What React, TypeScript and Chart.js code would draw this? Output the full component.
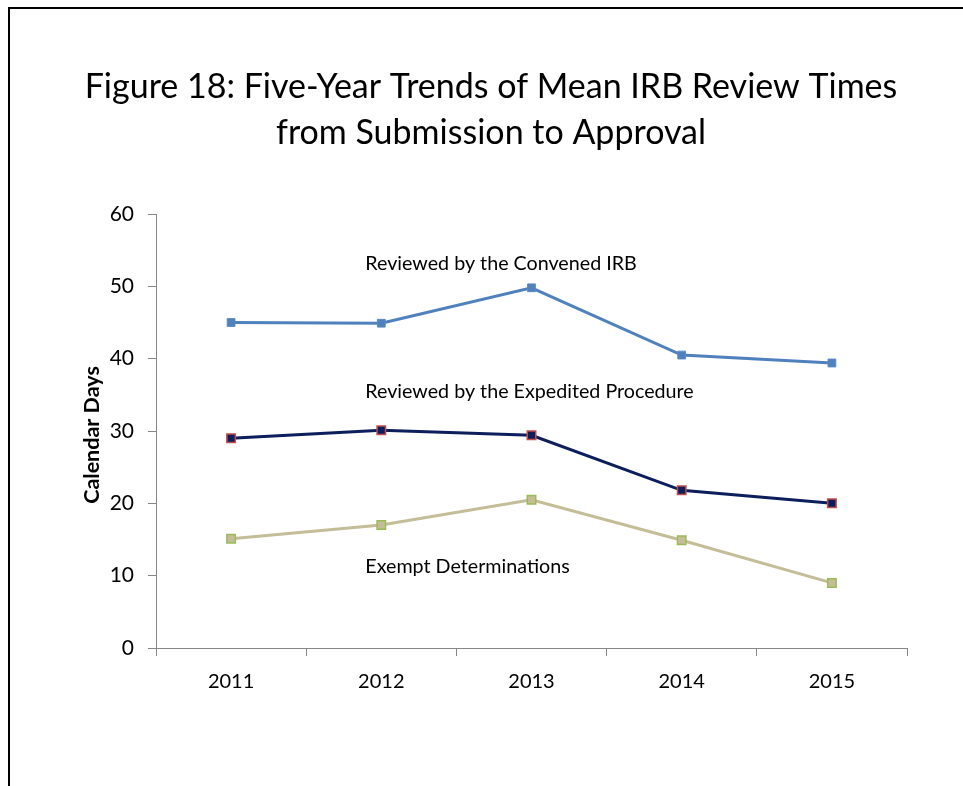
import React, { useEffect, useRef } from "react";
import { Chart, registerables } from "chart.js";

Chart.register(...registerables);

const years = ["2011", "2012", "2013", "2014", "2015"];
const convened = [45.0, 44.9, 49.8, 40.5, 39.4];
const expedited = [29.0, 30.1, 29.4, 21.8, 20.0];
const exempt = [15.1, 17.0, 20.5, 14.9, 9.0];
const titleLines = [
  "Figure 18: Five-Year Trends of Mean IRB Review Times",
  "from Submission to Approval",
];
const yAxisTitle = "Calendar Days";
const seriesLabels = [
  "Reviewed by the Convened IRB",
  "Reviewed by the Expedited Procedure",
  "Exempt Determinations",
];
const labelValues = [53.2, 35.4, 11.3];

const FONT = "Lato, 'Open Sans', sans-serif";

const textPlugin = {
  id: "textPlugin",
  afterDraw(chart: any) {
    const { ctx, scales } = chart;
    const x = scales.x;
    const y = scales.y;
    ctx.save();
    ctx.fillStyle = "#000";
    ctx.font = `19.7px ${FONT}`;
    ctx.textAlign = "left";
    ctx.textBaseline = "middle";
    const lx = x.getPixelForValue(1) - 16;
    seriesLabels.forEach((t, i) => {
      ctx.fillText(t, lx, y.getPixelForValue(labelValues[i]));
    });
    // y-axis title
    const area = chart.chartArea;
    ctx.translate(92, (area.top + area.bottom) / 2 + 4);
    ctx.rotate(-Math.PI / 2);
    ctx.font = `bold 21.5px ${FONT}`;
    ctx.textAlign = "center";
    ctx.fillText(yAxisTitle, 0, 0);
    ctx.restore();
  },
};

export default function App() {
  const ref = useRef<HTMLCanvasElement>(null);
  useEffect(() => {
    if (!ref.current) return;
    const axisColor = "#868686";
    const chart = new Chart(ref.current, {
      type: "line",
      data: {
        labels: years,
        datasets: [
          {
            label: seriesLabels[0],
            data: convened,
            borderColor: "#4F81BD",
            backgroundColor: "#4F81BD",
            pointBackgroundColor: "#4F81BD",
            pointBorderColor: "#5A8AC6",
            borderWidth: 3,
            pointStyle: "rect",
            pointRadius: 5.5,
            pointBorderWidth: 1,
          },
          {
            label: seriesLabels[1],
            data: expedited,
            borderColor: "#0C1E5B",
            backgroundColor: "#0C1E5B",
            pointBackgroundColor: "#0C1E5B",
            pointBorderColor: "#C0504D",
            borderWidth: 3,
            pointStyle: "rect",
            pointRadius: 6,
            pointBorderWidth: 1.5,
          },
          {
            label: seriesLabels[2],
            data: exempt,
            borderColor: "#C4BD97",
            backgroundColor: "#C4BD97",
            pointBackgroundColor: "#C4BD97",
            pointBorderColor: "#9BBB59",
            borderWidth: 3,
            pointStyle: "rect",
            pointRadius: 6,
            pointBorderWidth: 1.5,
          },
        ],
      },
      options: {
        animation: false,
        responsive: false,
        layout: { padding: { left: 75, right: 56, top: 0, bottom: 0 } },
        plugins: {
          legend: { display: false },
          tooltip: { enabled: false },
          title: {
            display: true,
            text: titleLines,
            color: "#000",
            font: { family: FONT, size: 34, weight: "normal", lineHeight: 46 / 34 },
            padding: { top: 64, bottom: 58 },
          },
        },
        scales: {
          x: {
            offset: true,
            grid: {
              offset: true,
              drawOnChartArea: false,
              drawTicks: true,
              tickLength: 8,
              color: axisColor,
            },
            border: { display: true, color: axisColor, width: 1 },
            ticks: { color: "#000", font: { family: FONT, size: 20 }, padding: 14 },
            afterFit: (s: any) => {
              s.height = 138;
            },
          },
          y: {
            min: 0,
            max: 60,
            ticks: {
              stepSize: 10,
              color: "#000",
              font: { family: FONT, size: 21 },
              padding: 14,
            },
            grid: {
              drawOnChartArea: false,
              drawTicks: true,
              tickLength: 8,
              color: axisColor,
            },
            border: { display: true, color: axisColor, width: 1 },
            afterFit: (s: any) => {
              s.width = 81;
            },
          },
        },
      },
      plugins: [textPlugin],
    });
    return () => chart.destroy();
  }, []);

  return (
    <div style={{ position: "absolute", left: 0, top: 0, width: 963, height: 786, background: "#fff", overflow: "hidden" }}>
      <canvas ref={ref} width={963} height={786} style={{ position: "absolute", left: 0, top: 0 }} />
      <div
        style={{
          position: "absolute",
          left: 8,
          top: 7,
          width: 955,
          height: 779,
          borderTop: "2px solid #000",
          borderLeft: "2px solid #000",
          boxSizing: "border-box",
          pointerEvents: "none",
        }}
      />
    </div>
  );
}
